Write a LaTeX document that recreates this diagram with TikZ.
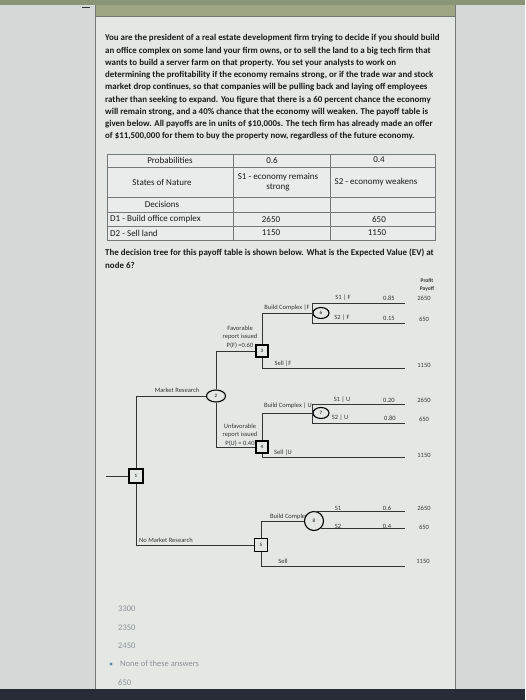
\documentclass[tikz,border=0pt]{standalone}
\usepackage{fontspec}
\setmainfont{Carlito}
\usepackage{xcolor}
\usetikzlibrary{shapes.geometric,positioning,calc}
\definecolor{screengray}{RGB}{212,217,215}
\definecolor{panelgray}{RGB}{228,232,229}
\definecolor{headolive}{RGB}{158,165,130}
\definecolor{topolive}{RGB}{138,148,118}
\definecolor{inkgray}{RGB}{25,27,27}
\definecolor{treegray}{RGB}{50,53,53}
\definecolor{answergray}{RGB}{140,145,150}
\definecolor{tablegrid}{RGB}{115,120,120}
\definecolor{tablefill}{RGB}{233,236,234}
\definecolor{bezelblack}{RGB}{40,44,54}
\definecolor{radioblue}{RGB}{105,135,165}

\tikzset{
  decnode/.style={draw=black,line width=1.1pt,fill=panelgray,minimum size=12pt,
    inner sep=0pt,font=\fontsize{5}{6}\selectfont},
  chancenode/.style={ellipse,draw=black,line width=1.1pt,fill=panelgray,
    minimum width=16pt,minimum height=11pt,inner sep=0pt,font=\fontsize{5}{6}\selectfont},
  branch/.style={draw=treegray,line width=0.85pt},
  lbl/.style={font=\fontsize{6.5}{8.5}\selectfont,text=treegray,inner sep=0pt},
  cell/.style={font=\fontsize{9}{10.5}\selectfont,text=inkgray,inner sep=0pt,align=center},
  answer/.style={font=\fontsize{8.5}{10}\selectfont,text=answergray,anchor=west,inner sep=0pt},
}

\begin{document}
\begin{tikzpicture}[x=1pt,y=-1pt]
  \useasboundingbox (0,0) rectangle (525,700);
  % screen and page panel
  \fill[screengray] (0,0) rectangle (525,700);
  \fill[topolive] (0,0) rectangle (525,5);
  \fill[panelgray] (95,5) rectangle (455,689);
  \fill[headolive] (95,5) rectangle (455,16);
  \draw[tablegrid,line width=0.6pt] (95,5) -- (95,689) (455,5) -- (455,689) (95,16) -- (455,16);
  \fill[treegray] (82,7) rectangle (90,8.5);
  \fill[bezelblack] (0,689) rectangle (525,700);

  % problem text
  \node[anchor=north west,inner sep=0pt,align=left,text=inkgray,
        font=\bfseries\fontsize{8.9}{12.25}\selectfont] (prompt) at (105,34.5) {%
    You are the president of a real estate development firm trying to decide if you should build\\
    an office complex on some land your firm owns, or to sell the land to a big tech firm that\\
    wants to build a server farm on that property. You set your analysts to work on\\
    determining the profitability if the economy remains strong, or if the trade war and stock\\
    market drop continues, so that companies will be pulling back and laying off employees\\
    rather than seeking to expand. You figure that there is a 60 percent chance the economy\\
    will remain strong, and a 40\% chance that the economy will weaken. The payoff table is\\
    given below. All payoffs are in units of \$10,000s. The tech firm has already made an offer\\
    of \$11,500,000 for them to buy the property now, regardless of the future economy.};

  % payoff table
  \fill[tablefill] (107,154) rectangle (435,240);
  \draw[tablegrid,line width=0.6pt] (107,154) rectangle (435,240);
  \foreach \y in {167,197,212,226}
    \draw[tablegrid,line width=0.6pt] (107,\y) -- (435,\y);
  \foreach \x in {233,330}
    \draw[tablegrid,line width=0.6pt] (\x,154) -- (\x,240);
  \node[cell] (prob) at (170,160) {Probabilities};
  \node[cell] (p1) at (272,160) {0.6};
  \node[cell] (p2) at (379,160) {0.4};
  \node[cell] (states) at (162,182) {States of Nature};
  \node[cell] (s1) at (278,182) {S1 - economy remains\\strong};
  \node[cell] (s2) at (376,182) {S2 - economy weakens};
  \node[cell] (decs) at (162,204) {Decisions};
  \node[cell,anchor=west] (d1) at (110,219) {D1 - Build office complex};
  \node[cell] (d1s1) at (271,219) {2650};
  \node[cell] (d1s2) at (379,219) {650};
  \node[cell,anchor=west] (d2) at (110,233) {D2 - Sell land};
  \node[cell] (d2s1) at (271,233) {1150};
  \node[cell] (d2s2) at (377,233) {1150};

  \node[anchor=north west,inner sep=0pt,align=left,text=inkgray,
        font=\bfseries\fontsize{8.9}{12.5}\selectfont] (question) at (105,249) {%
    The decision tree for this payoff table is shown below. What is the Expected Value (EV) at\\
    node 6?};

  % tree labels
  \node[lbl,font=\bfseries\fontsize{5.5}{6}\selectfont] (profit) at (427,281) {Profit};
  \node[lbl,font=\bfseries\fontsize{5.5}{6}\selectfont] (payoff) at (427,289) {Payoff};
  \node[lbl] (s6a) at (343,298) {S1 | F};
  \node[lbl] (q6a) at (389,298) {0.85};
  \node[lbl] (v6a) at (424,298) {2650};
  \node[lbl] (b6) at (287,308) {Build Complex |F};
  \node[lbl] (s6b) at (342,318) {S2 | F};
  \node[lbl] (q6b) at (389,318) {0.15};
  \node[lbl] (v6b) at (424,319) {650};
  \node[lbl,align=center] (fav) at (240,337) {Favorable\\report issued\\P(F) =0.60};
  \node[lbl] (sellF) at (283,364) {Sell |F};
  \node[lbl] (v3) at (424,365) {1150};
  \node[lbl] (mr) at (177,390) {Market Research};
  \node[lbl] (s7a) at (342,400) {S1 | U};
  \node[lbl] (q7a) at (389,400) {0.20};
  \node[lbl] (v7a) at (424,400) {2650};
  \node[lbl] (b7) at (288,406) {Build Complex | U};
  \node[lbl] (s7b) at (340,418) {S2 | U};
  \node[lbl] (q7b) at (390,418) {0.80};
  \node[lbl] (v7b) at (424,419) {650};
  \node[lbl,align=center] (unfav) at (240,435) {Unfavorable\\report issued\\P(U) = 0.40};
  \node[lbl] (sellU) at (283,453) {Sell |U};
  \node[lbl] (v4) at (424,455) {1150};
  \node[lbl] (s8a) at (338,508) {S1};
  \node[lbl] (q8a) at (387,508) {0.6};
  \node[lbl] (v8a) at (424,508) {2650};
  \node[lbl,anchor=west] (b8) at (270,517) {Build Complex};
  \node[lbl] (s8b) at (338,526) {S2};
  \node[lbl] (q8b) at (387,526) {0.4};
  \node[lbl] (v8b) at (424,527) {650};
  \node[lbl,anchor=west] (nmr) at (139,540) {No Market Research};
  \node[lbl] (sell5) at (283,561) {Sell};
  \node[lbl] (v5) at (423,561) {1150};

  % tree nodes
  \coordinate (start) at (106,476);
  \node[decnode,minimum size=14pt] (n1) at (136,476) {1};
  \node[chancenode,minimum width=19pt,minimum height=12pt] (n2) at (216,396) {2};
  \node[decnode] (n3) at (262,351) {3};
  \node[decnode] (n4) at (262,447) {4};
  \node[decnode,minimum size=13pt] (n5) at (261,545) {5};
  \node[chancenode] (n6) at (321,313) {6};
  \node[chancenode] (n7) at (321,413) {7};
  \node[chancenode,minimum width=19pt,minimum height=19pt] (n8) at (314,521) {8};
  \foreach \name/\y in {e6a/303,e6b/323,e3/368,e7a/404,e7b/423,e4/457,e8a/512,e8b/530,e5/566}
    \coordinate (\name) at (405,\y);

  % branches
  \draw[branch] (start) -- (n1);
  \draw[branch] (n1) |- (n2);
  \draw[branch] (n1) |- (n5);
  \draw[branch] (n2) |- (n3);
  \draw[branch] (n2) |- (n4);
  \draw[branch] (n3) |- (n6);
  \draw[branch] (n3) |- (e3);
  \draw[branch] (n6.west) |- (e6a);
  \draw[branch] (n6.west) |- (e6b);
  \draw[branch] (n4) |- (n7);
  \draw[branch] (n4) |- (e4);
  \draw[branch] (n7.west) |- (e7a);
  \draw[branch] (n7.west) |- (e7b);
  \draw[branch] (n5) |- (n8);
  \draw[branch] (n5) |- (e5);
  \draw[branch] (n8.north) -- (n8.north -| e8a);
  \draw[branch] (n8.south east) -- (n8.south east -| e8b);

  % answer choices
  \node[answer] (a1) at (118,609) {3300};
  \node[answer] (a2) at (118,628) {2350};
  \node[answer] (a3) at (118,646) {2450};
  \fill[radioblue] (111,664) circle (1.7);
  \node[answer] (a4) at (120,664) {None of these answers};
  \node[answer] (a5) at (118,683) {650};
\end{tikzpicture}
\end{document}
